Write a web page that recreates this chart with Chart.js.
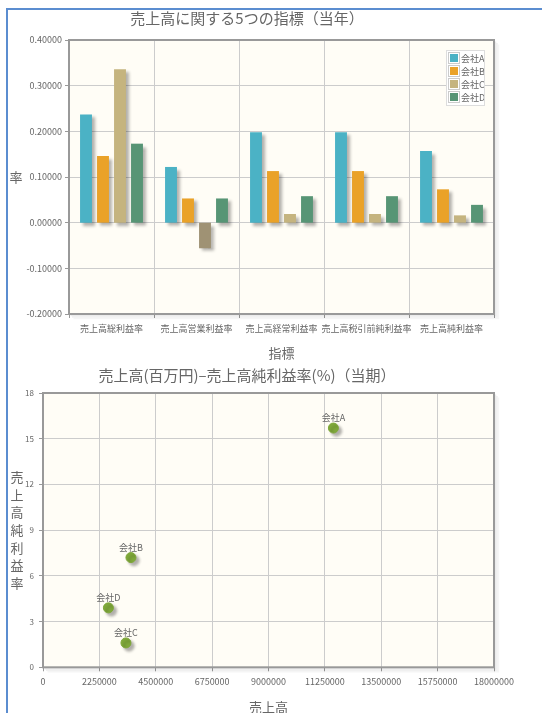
<!DOCTYPE html>
<html>
<head>
<meta charset="utf-8">
<script src="https://cdn.jsdelivr.net/npm/chart.js@4/dist/chart.umd.min.js"></script>
<style>
  body { margin: 0; background: #fff; overflow: hidden; }
  #frame { position: absolute; left: 6px; top: 8px; width: 600px; height: 800px;
           border-left: 2px solid #5b8dd0; border-top: 2px solid #5b8dd0; }
  canvas { position: absolute; left: 0; }
  #barChart { top: 0; }
  #scatterChart { top: 362px; }
</style>
</head>
<body>
<div id="frame"></div>
<canvas id="barChart" width="542" height="362"></canvas>
<canvas id="scatterChart" width="542" height="358"></canvas>
<script>
const FONT = '"Noto Sans CJK JP", "Noto Sans", sans-serif';

// bar chart data
const indicators = ['売上高総利益率', '売上高営業利益率', '売上高経常利益率', '売上高税引前純利益率', '売上高純利益率'];
const companies = ['会社A', '会社B', '会社C', '会社D'];
const companyA = [0.237, 0.122, 0.198, 0.198, 0.157];
const companyB = [0.146, 0.053, 0.113, 0.113, 0.073];
const companyC = [0.336, -0.056, 0.019, 0.019, 0.016];
const companyD = [0.173, 0.053, 0.058, 0.058, 0.039];
const barColors = ['#4bb2c5', '#eaa228', '#c5b47f', '#579575'];
const negColors = ['#498991', '#c08840', '#9f9274', '#546d61'];

// scatter data: sales (million yen) vs net profit ratio (%)
const scatterLabels = ['会社A', '会社B', '会社C', '会社D'];
const sales = [11590000, 3510000, 3310000, 2610000];
const netMargin = [15.7, 7.2, 1.6, 3.9];

// plot background, border and shadow
const plotFrame = {
  id: 'plotFrame',
  beforeDraw(chart) {
    const {ctx, chartArea: a} = chart;
    ctx.save();
    ctx.fillStyle = '#fffdf6';
    ctx.fillRect(a.left, a.top, a.right - a.left, a.bottom - a.top);
    ctx.restore();
  },
  beforeDatasetsDraw(chart) {
    const {ctx, chartArea: a} = chart;
    ctx.save();
    for (let i = 1; i <= 3; i++) {
      ctx.strokeStyle = 'rgba(0,0,0,' + (0.1 - i * 0.02) + ')';
      ctx.lineWidth = 1.5;
      ctx.beginPath();
      ctx.moveTo(a.left + i * 1.5, a.bottom + i * 1.5);
      ctx.lineTo(a.right + i * 1.5, a.bottom + i * 1.5);
      ctx.lineTo(a.right + i * 1.5, a.top + i * 1.5);
      ctx.stroke();
    }
    ctx.strokeStyle = '#999999';
    ctx.lineWidth = 2;
    ctx.strokeRect(a.left, a.top, a.right - a.left, a.bottom - a.top);
    ctx.restore();
  }
};

// drop shadow for the marks
const markShadow = {
  id: 'markShadow',
  beforeDatasetsDraw(chart) {
    const ctx = chart.ctx;
    ctx.save();
    ctx.shadowColor = 'rgba(0,0,0,0.3)';
    ctx.shadowOffsetX = 3;
    ctx.shadowOffsetY = 3;
    ctx.shadowBlur = 3;
  },
  afterDatasetsDraw(chart) {
    chart.ctx.restore();
  }
};

// upright vertical axis title
const verticalTitle = {
  id: 'verticalTitle',
  afterDraw(chart, args, opts) {
    const {ctx, chartArea: a} = chart;
    const chars = Array.from(opts.text);
    const mid = (a.top + a.bottom) / 2;
    ctx.save();
    ctx.font = '13px ' + FONT;
    ctx.fillStyle = '#666';
    ctx.textAlign = 'center';
    ctx.textBaseline = 'middle';
    chars.forEach((c, i) => {
      ctx.fillText(c, opts.x, mid + (i - (chars.length - 1) / 2) * opts.step);
    });
    ctx.restore();
  }
};

// legend box inside the plot
const innerLegend = {
  id: 'innerLegend',
  afterDraw(chart) {
    const ctx = chart.ctx;
    const a = chart.chartArea;
    const x = a.right - 48, y = a.top + 10, w = 38, rowH = 13;
    const sets = chart.data.datasets;
    ctx.save();
    ctx.fillStyle = '#ffffff';
    ctx.fillRect(x, y, w, rowH * sets.length + 3);
    ctx.strokeStyle = '#dddddd';
    ctx.lineWidth = 1;
    ctx.strokeRect(x + 0.5, y + 0.5, w, rowH * sets.length + 3);
    ctx.font = '9px ' + FONT;
    ctx.textBaseline = 'middle';
    sets.forEach((ds, i) => {
      const ry = y + 2 + i * rowH;
      ctx.strokeStyle = '#cccccc';
      ctx.strokeRect(x + 2.5, ry + 0.5, 11, 11);
      ctx.fillStyle = barColors[i];
      ctx.fillRect(x + 4, ry + 2, 8, 8);
      ctx.fillStyle = '#666';
      ctx.save();
      ctx.beginPath();
      ctx.rect(x + 14, ry, w - 14, rowH);
      ctx.clip();
      ctx.fillText(ds.label, x + 15, ry + 6.5);
      ctx.restore();
    });
    ctx.restore();
  }
};

// text label above each scatter point
const pointNames = {
  id: 'pointNames',
  afterDatasetsDraw(chart) {
    const ctx = chart.ctx;
    const meta = chart.getDatasetMeta(0);
    ctx.save();
    ctx.font = '9px ' + FONT;
    ctx.fillStyle = '#666';
    ctx.textAlign = 'center';
    ctx.textBaseline = 'middle';
    meta.data.forEach((pt, i) => {
      ctx.fillText(scatterLabels[i], pt.x, pt.y - 10);
    });
    ctx.restore();
  }
};

const seriesValues = [companyA, companyB, companyC, companyD];

new Chart(document.getElementById('barChart'), {
  type: 'bar',
  data: {
    labels: indicators,
    datasets: companies.map((name, i) => ({
      label: name,
      data: seriesValues[i],
      backgroundColor: seriesValues[i].map(v => v < 0 ? negColors[i] : barColors[i]),
      categoryPercentage: 0.8,
      barPercentage: 0.7
    }))
  },
  options: {
    responsive: false,
    animation: false,
    layout: { padding: { left: 0, right: 48, top: 0, bottom: 0 } },
    plugins: {
      legend: { display: false },
      tooltip: { enabled: false },
      title: {
        display: true,
        text: '売上高に関する5つの指標（当年）',
        color: '#666',
        font: { family: FONT, size: 15, weight: 'normal' },
        padding: { top: 9, bottom: 13 }
      },
      verticalTitle: { text: '率', x: 16, step: 17 }
    },
    scales: {
      x: {
        grid: { color: '#cccccc', tickLength: 4, tickColor: '#999' },
        border: { display: false },
        ticks: { color: '#666', font: { family: FONT, size: 9 }, padding: 5, maxRotation: 0, autoSkip: false },
        title: { display: true, text: '指標', color: '#666', font: { family: FONT, size: 13 }, padding: { top: 0, bottom: 1 } },
        afterFit(scale) { scale.height = 48; scale.paddingLeft = 0; scale.paddingRight = 0; }
      },
      y: {
        min: -0.2,
        max: 0.4,
        grid: { color: '#cccccc', tickLength: 4, tickColor: '#999' },
        border: { display: false },
        ticks: { stepSize: 0.1, color: '#666', font: { family: FONT, size: 9 }, padding: 3,
                 callback: v => v.toFixed(5) },
        afterFit(scale) { scale.width = 69; }
      }
    }
  },
  plugins: [plotFrame, markShadow, verticalTitle, innerLegend]
});

new Chart(document.getElementById('scatterChart'), {
  type: 'scatter',
  data: {
    datasets: [{
      label: '会社',
      data: sales.map((s, i) => ({ x: s, y: netMargin[i] })),
      backgroundColor: '#7fa83a',
      borderColor: '#7fa83a',
      pointRadius: 5
    }]
  },
  options: {
    responsive: false,
    animation: false,
    layout: { padding: { left: 0, right: 48, top: 0, bottom: 0 } },
    plugins: {
      legend: { display: false },
      tooltip: { enabled: false },
      title: {
        display: true,
        text: '売上高(百万円)–売上高純利益率(%)（当期）',
        color: '#666',
        font: { family: FONT, size: 15, weight: 'normal' },
        padding: { top: 4, bottom: 9 }
      },
      verticalTitle: { text: '売上高純利益率', x: 17, step: 17.6 }
    },
    scales: {
      x: {
        type: 'linear',
        min: 0,
        max: 18000000,
        grid: { color: '#cccccc', tickLength: 4, tickColor: '#999' },
        border: { display: false },
        ticks: { stepSize: 2250000, color: '#666', font: { family: FONT, size: 9 }, padding: 5, maxRotation: 0,
                 callback: v => String(v) },
        title: { display: true, text: '売上高', color: '#666', font: { family: FONT, size: 13 }, padding: { top: 0, bottom: 5 } },
        afterFit(scale) { scale.height = 52.7; scale.paddingLeft = 0; scale.paddingRight = 0; }
      },
      y: {
        min: 0,
        max: 18,
        grid: { color: '#cccccc', tickLength: 4, tickColor: '#999' },
        border: { display: false },
        ticks: { stepSize: 3, color: '#666', font: { family: FONT, size: 8 }, padding: 5 },
        afterFit(scale) { scale.width = 43; }
      }
    }
  },
  plugins: [plotFrame, markShadow, verticalTitle, pointNames]
});
</script>
</body>
</html>
